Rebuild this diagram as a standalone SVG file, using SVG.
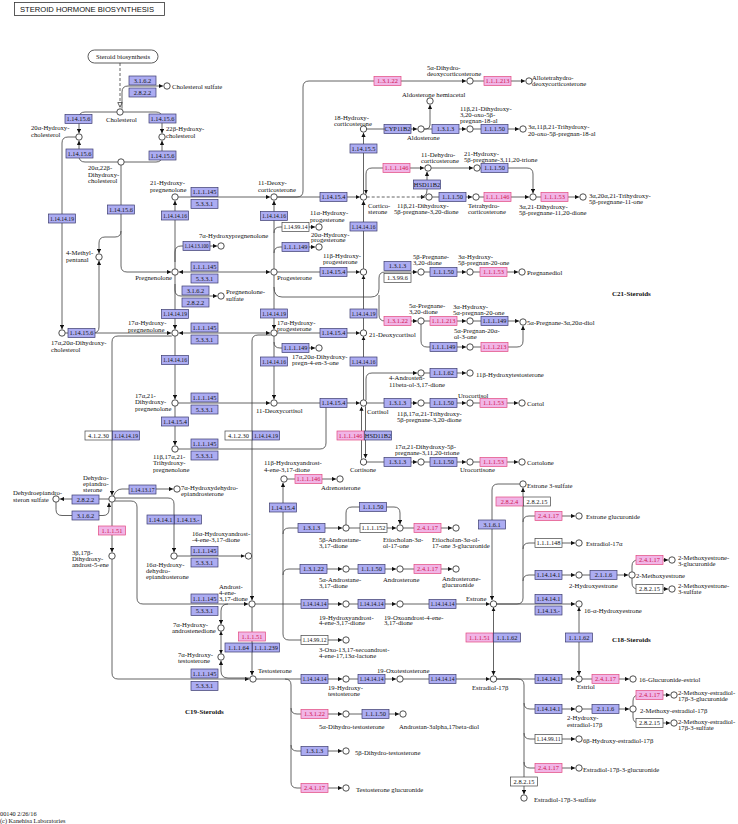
<svg xmlns="http://www.w3.org/2000/svg" width="738" height="824" viewBox="0 0 738 824">
<style>
text{font-family:"Liberation Serif","Times New Roman",serif;fill:#111}
.l{font-size:6.7px}
.h{font-size:7px;font-weight:bold}
.e text{font-size:6.4px;text-anchor:middle}
.e rect{stroke-width:.7}
.b rect{fill:#acacf2;stroke:#3b3b6e}
.p rect{fill:#f1b5e6;stroke:#e2487f}
.p text{fill:#d0134f}
.w rect{fill:#fff;stroke:#444}
.n circle{fill:#fff;stroke:#222;stroke-width:.8}
#connectors path{fill:none;stroke:#3c3c3c;stroke-width:.8}
#connectors .a{marker-end:url(#ar)}
#connectors .aa{marker-start:url(#ar);marker-end:url(#ar)}
#connectors .d{stroke-dasharray:3 2}
</style>
<defs>
<marker id="ar" viewBox="0 0 10 10" refX="10" refY="5" markerWidth="4.2" markerHeight="4.2" markerUnits="userSpaceOnUse" orient="auto-start-reverse"><path d="M0,0L10,5L0,10z" fill="#111"/></marker>
<marker id="ho" viewBox="0 0 10 10" refX="10" refY="5" markerWidth="5.5" markerHeight="5.5" markerUnits="userSpaceOnUse" orient="auto"><path d="M1,1L9.5,5L1,9z" fill="#fff" stroke="#111" stroke-width="1.2"/></marker>
</defs>
<rect width="738" height="824" fill="#fff"/>
<g id="title"><rect x="14.5" y="2.5" width="150" height="13" fill="#fff" stroke="#333" stroke-width=".8"/><text x="20" y="12" style="font-family:'Liberation Sans',Arial,sans-serif;font-size:7.3px" textLength="134" lengthAdjust="spacingAndGlyphs">STEROID  HORMONE BIOSYNTHESIS</text></g>

<g id="connectors">
<path class="d" style="marker-end:url(#ho)" d="M120,63V107.5"/>
<path class="a" d="M122,108.7V92Q122,86 128,86H163"/>
<path class="a" d="M116.8,112H85Q79,112 79,118V133.2"/>
<path class="a" d="M123.2,112H156Q162,112 162,118V133.2"/>
<path class="a" d="M117.8,162H85Q79,162 79,156V140.8"/>
<path class="a" d="M124.2,162H156Q162,162 162,156V140.8"/>
<path class="a" d="M75.8,137H68Q62,137 62,143V329.2"/>
<path class="a" d="M121,165.2V266Q121,272 127,272H171.2"/>
<path class="a" d="M121,231Q121,237 115,237H105Q99,237 99,243V253.2"/>
<path class="a" d="M65.2,333H171.2"/>
<path class="a" d="M93,333Q99,333 99,327V260.8"/>
<path class="a" d="M175,268.8V200.8"/>
<path class="a" d="M178.2,197H270.2"/>
<path class="a" d="M175,262V252Q175,246 181,246H217.2"/>
<path class="aa" d="M178.8,272H270.2"/>
<path class="a" d="M175,284V290Q175,296 181,296H217.2"/>
<path class="a" d="M175,275.2V329.2"/>
<path class="aa" d="M178.8,333H270.2"/>
<path class="a" d="M175,336.2V399.2"/>
<path class="a" d="M178.2,403H270.2"/>
<path class="a" d="M175,406.2V445.2"/>
<path d="M178.2,449H320Q326,449 326,443V403"/>
<path class="a" d="M171.8,336H118Q112,336 112,342V495.2"/>
<path class="a" d="M108.8,499H59.8"/>
<path class="a" d="M56,502.2V509.5Q56,515.5 62,515.5H103Q109,515.5 109,509.5V502.8"/>
<path class="a" d="M113.5,496Q116,489 122,489H173.2"/>
<path class="a" d="M115.2,498H168Q174,498 174,504V552.2"/>
<path class="a" d="M115,501H131Q137,501 137,507V598Q137,604 143,604H248.2"/>
<path class="a" d="M112,502.2V552.2"/>
<path class="a" d="M112,559.2V673Q112,679 118,679H249.2"/>
<path class="a" d="M177.2,556H244.7"/>
<path class="a" d="M270.8,335H258Q252,335 252,341V600.2"/>
<path class="a" d="M228,604Q221,604 221,611V624.2"/>
<path class="aa" d="M221,631.2V653.8"/>
<path class="a" d="M249.8,678H228Q221,678 221,671V660.8"/>
<path class="a" d="M252,607.2V675.2"/>
<path class="a" d="M283,604V482.8"/>
<path class="a" d="M283,534Q283,528 289,528H342.2"/>
<path class="a" d="M283,575Q283,569 289,569H342.2"/>
<path class="a" d="M283,604V634Q283,640 289,640H342.2"/>
<path class="a" d="M255.2,604H342.2"/>
<path class="a" d="M349.2,604H396.2"/>
<path class="a" d="M403.2,604H489.8"/>
<path class="a" d="M287.2,479H336.2"/>
<path class="a" d="M349.2,528H396.2"/>
<path class="a" d="M346,524.8V513Q346,507 352,507H394Q400,507 400,513V524.2"/>
<path class="a" d="M403.2,528H452.2"/>
<path class="a" d="M349.2,569H396.2"/>
<path class="a" d="M403.2,569H452.2"/>
<path class="a" d="M256.2,679H342.2"/>
<path class="a" d="M349.2,679H396.2"/>
<path class="a" d="M403.2,679H489.8"/>
<path class="a" d="M285,679Q291,679 291,685V782Q291,788 297,788H342.2"/>
<path class="a" d="M291,708Q291,714 297,714H342.2"/>
<path class="a" d="M291,745Q291,751 297,751H342.2"/>
<path class="a" d="M349.2,714H399.2"/>
<path class="a" d="M277.2,197H359.8"/>
<path class="a" d="M274,268.8V200.8"/>
<path class="a" d="M277.2,197H297Q303,197 303,191V87Q303,81 309,81H466.2"/>
<path class="a" d="M473.2,81H525.2"/>
<path class="a" d="M363.5,193.8V132.8"/>
<path class="a" d="M366.7,129H417.2"/>
<path class="a" d="M424.2,129H426Q430,129 430,125V104.8"/>
<path class="a" d="M424.2,129H466.2"/>
<path class="a" d="M473.2,129H519.2"/>
<path class="aa" d="M424.2,168H372Q366,168 366,174V193.8"/>
<path class="a d" d="M366.7,197H425.2"/>
<path class="a" d="M420,197Q427,197 427,190V171.8"/>
<path class="a" d="M432.2,197H472.2"/>
<path class="a" d="M479.2,197H529.2"/>
<path class="a" d="M536.2,197H579.2"/>
<path class="a" d="M431.2,168H473.2"/>
<path class="a" d="M480.2,168H527Q533,168 533,174V193.2"/>
<path class="a" d="M274,233Q274,227 280,227H315.2"/>
<path class="a" d="M274,253Q274,247 280,247H315.2"/>
<path class="a" d="M277.2,272H359.8"/>
<path class="a" d="M363.5,268.8V200.8"/>
<path class="a" d="M363.5,329.8V275.2"/>
<path class="a" d="M363.5,399.8V336.2"/>
<path class="a" d="M274,275.2V329.2"/>
<path class="a" d="M274,287Q274,297 282,297H371Q379,297 379,289V278Q379,272 385,272H417.2"/>
<path class="a" d="M379,295V315Q379,321 385,321H417.2"/>
<path class="a" d="M277.2,333H359.8"/>
<path class="a" d="M274,342Q274,348 280,348H315.2"/>
<path class="a" d="M274,336.2V399.2"/>
<path class="a" d="M277.2,403H359.8"/>
<path class="a" d="M424.2,272H466.2"/>
<path class="a" d="M473.2,272H518.2"/>
<path class="a" d="M424.2,321H466.2"/>
<path class="a" d="M473.2,321H519.2"/>
<path class="a" d="M421,324.2V341Q421,347 427,347H466.2"/>
<path class="a" d="M473.2,347H517Q523,347 523,341V325.8"/>
<path class="a" d="M366,400V379Q366,373 372,373H417.2"/>
<path class="a" d="M424.2,373H466.2"/>
<path class="a" d="M366.7,403H417.2"/>
<path class="a" d="M424.2,403H466.2"/>
<path class="a" d="M473.2,403H518.2"/>
<path class="a" d="M361.5,458.8V406.6"/>
<path class="a" d="M365.5,406.2V458.2"/>
<path class="a" d="M366.7,462H417.2"/>
<path class="a" d="M424.2,462H466.2"/>
<path class="a" d="M473.2,462H518.2"/>
<path class="a" d="M496.7,604H575.2"/>
<path class="a" d="M496.7,604H517Q523,604 523,598V487.8"/>
<path class="a" d="M523,522Q523,516 529,516H575.2"/>
<path class="a" d="M523,549Q523,543 529,543H575.2"/>
<path class="a" d="M523,581Q523,575 529,575H575.2"/>
<path class="a" d="M519.8,484H498Q492,484 492,490V600.2"/>
<path class="a" d="M582.2,575H628.2"/>
<path class="a" d="M632,571.8V566Q632,560 638,560H668.2"/>
<path class="a" d="M632,578.2V583Q632,589 638,589H668.2"/>
<path class="aa" d="M493.5,607.2V675.2"/>
<path class="aa" d="M579,607.2V675.2"/>
<path class="a" d="M496.7,679H575.2"/>
<path class="a" d="M582.2,679H629.2"/>
<path class="a" d="M496.7,679H518Q524,679 524,685V794.2"/>
<path class="a" d="M524,703Q524,709 530,709H575.2"/>
<path class="a" d="M524,733Q524,739 530,739H575.2"/>
<path class="a" d="M524,762Q524,768 530,768H575.2"/>
<path class="a" d="M582.2,709H629.2"/>
<path class="a" d="M633,705.8V701Q633,695 639,695H670.2"/>
<path class="a" d="M633,712.2V717Q633,723 639,723H670.2"/>
</g>

<g id="n_steroid"><rect x="88" y="50" width="70" height="13" rx="6.5" fill="#fff" stroke="#333" stroke-width=".8"/><text class="l" x="123" y="59.3" text-anchor="middle">Steroid biosynthesis</text></g>

<g id="e1" class="e b"><rect x="129" y="76" width="27" height="9"/><text x="142.5" y="82.7">3.1.6.2</text></g>
<g id="e2" class="e b"><rect x="129" y="88" width="27" height="9"/><text x="142.5" y="94.7">2.8.2.2</text></g>
<g id="e3" class="e b"><rect x="65" y="114.5" width="27" height="9"/><text x="78.5" y="121.2">1.14.15.6</text></g>
<g id="e4" class="e b"><rect x="149" y="114" width="27" height="9"/><text x="162.5" y="120.7">1.14.15.6</text></g>
<g id="e5" class="e b"><rect x="66" y="149" width="27" height="9"/><text x="79.5" y="155.7">1.14.15.6</text></g>
<g id="e6" class="e b"><rect x="149" y="151" width="27" height="9"/><text x="162.5" y="157.7">1.14.15.6</text></g>
<g id="e7" class="e b"><rect x="191" y="187.5" width="27" height="9"/><text x="204.5" y="194.2">1.1.1.145</text></g>
<g id="e8" class="e b"><rect x="191" y="199.5" width="27" height="9"/><text x="204.5" y="206.2">5.3.3.1</text></g>
<g id="e9" class="e b"><rect x="107.5" y="205" width="27" height="9"/><text x="121" y="211.7">1.14.15.6</text></g>
<g id="e10" class="e b"><rect x="48.5" y="214" width="27" height="9"/><text x="62" y="220.7" textLength="24" lengthAdjust="spacingAndGlyphs">1.14.14.19</text></g>
<g id="e11" class="e b"><rect x="161.5" y="211" width="27" height="9"/><text x="175" y="217.7" textLength="24" lengthAdjust="spacingAndGlyphs">1.14.14.16</text></g>
<g id="e12" class="e b"><rect x="183" y="241.5" width="27" height="9"/><text x="196.5" y="248.2" textLength="24" lengthAdjust="spacingAndGlyphs">1.14.13.100</text></g>
<g id="e13" class="e b"><rect x="191" y="262" width="27" height="9"/><text x="204.5" y="268.7">1.1.1.145</text></g>
<g id="e14" class="e b"><rect x="191" y="274" width="27" height="9"/><text x="204.5" y="280.7">5.3.3.1</text></g>
<g id="e15" class="e b"><rect x="182" y="286" width="27" height="9"/><text x="195.5" y="292.7">3.1.6.2</text></g>
<g id="e16" class="e b"><rect x="182" y="298" width="27" height="9"/><text x="195.5" y="304.7">2.8.2.2</text></g>
<g id="e17" class="e b"><rect x="161.5" y="309.5" width="27" height="9"/><text x="175" y="316.2" textLength="24" lengthAdjust="spacingAndGlyphs">1.14.14.19</text></g>
<g id="e18" class="e b"><rect x="68" y="328.5" width="27" height="9"/><text x="81.5" y="335.2">1.14.15.6</text></g>
<g id="e19" class="e b"><rect x="191" y="323" width="27" height="9"/><text x="204.5" y="329.7">1.1.1.145</text></g>
<g id="e20" class="e b"><rect x="191" y="335" width="27" height="9"/><text x="204.5" y="341.7">5.3.3.1</text></g>
<g id="e21" class="e b"><rect x="161.5" y="355.5" width="27" height="9"/><text x="175" y="362.2" textLength="24" lengthAdjust="spacingAndGlyphs">1.14.14.16</text></g>
<g id="e22" class="e b"><rect x="191" y="393" width="27" height="9"/><text x="204.5" y="399.7">1.1.1.145</text></g>
<g id="e23" class="e b"><rect x="191" y="405" width="27" height="9"/><text x="204.5" y="411.7">5.3.3.1</text></g>
<g id="e24" class="e b"><rect x="161.5" y="417" width="27" height="9"/><text x="175" y="423.7">1.14.15.4</text></g>
<g id="e25" class="e w"><rect x="85" y="431" width="27" height="9"/><text x="98.5" y="437.7">4.1.2.30</text></g>
<g id="e26" class="e b"><rect x="112.5" y="431" width="27" height="9"/><text x="126" y="437.7" textLength="24" lengthAdjust="spacingAndGlyphs">1.14.14.19</text></g>
<g id="e27" class="e b"><rect x="191" y="439" width="27" height="9"/><text x="204.5" y="445.7">1.1.1.145</text></g>
<g id="e28" class="e b"><rect x="191" y="451" width="27" height="9"/><text x="204.5" y="457.7">5.3.3.1</text></g>
<g id="e29" class="e w"><rect x="225" y="431" width="27" height="9"/><text x="238.5" y="437.7">4.1.2.30</text></g>
<g id="e30" class="e b"><rect x="252.5" y="431" width="27" height="9"/><text x="266" y="437.7" textLength="24" lengthAdjust="spacingAndGlyphs">1.14.14.19</text></g>
<g id="e31" class="e b"><rect x="129" y="485" width="27" height="9"/><text x="142.5" y="491.7" textLength="24" lengthAdjust="spacingAndGlyphs">1.14.13.17</text></g>
<g id="e32" class="e b"><rect x="72" y="495" width="27" height="9"/><text x="85.5" y="501.7">2.8.2.2</text></g>
<g id="e33" class="e b"><rect x="72" y="511" width="27" height="9"/><text x="85.5" y="517.7">3.1.6.2</text></g>
<g id="e34" class="e b"><rect x="147" y="515" width="27" height="9"/><text x="160.5" y="521.7">1.14.14.1</text></g>
<g id="e35" class="e b"><rect x="174.5" y="515" width="27" height="9"/><text x="188" y="521.7">1.14.13.-</text></g>
<g id="e36" class="e p"><rect x="98.5" y="526" width="27" height="9"/><text x="112" y="532.7">1.1.1.51</text></g>
<g id="e37" class="e b"><rect x="191" y="546.5" width="27" height="9"/><text x="204.5" y="553.2">1.1.1.145</text></g>
<g id="e38" class="e b"><rect x="191" y="558" width="27" height="9"/><text x="204.5" y="564.7">5.3.3.1</text></g>
<g id="e39" class="e b"><rect x="191" y="594" width="27" height="9"/><text x="204.5" y="600.7">1.1.1.145</text></g>
<g id="e40" class="e b"><rect x="191" y="606.5" width="27" height="9"/><text x="204.5" y="613.2">5.3.3.1</text></g>
<g id="e41" class="e p"><rect x="238.5" y="632" width="27" height="9"/><text x="252" y="638.7">1.1.1.51</text></g>
<g id="e42" class="e b"><rect x="225" y="643" width="27" height="9"/><text x="238.5" y="649.7">1.1.1.64</text></g>
<g id="e43" class="e b"><rect x="252.5" y="643" width="27" height="9"/><text x="266" y="649.7">1.1.1.239</text></g>
<g id="e44" class="e b"><rect x="191" y="669" width="27" height="9"/><text x="204.5" y="675.7">1.1.1.145</text></g>
<g id="e45" class="e b"><rect x="191" y="681.5" width="27" height="9"/><text x="204.5" y="688.2">5.3.3.1</text></g>
<g id="e46" class="e p"><rect x="374" y="76.5" width="27" height="9"/><text x="387.5" y="83.2">1.3.1.22</text></g>
<g id="e47" class="e p"><rect x="484" y="76.5" width="27" height="9"/><text x="497.5" y="83.2">1.1.1.213</text></g>
<g id="e48" class="e b"><rect x="384" y="124.5" width="27" height="9"/><text x="397.5" y="131.2">CYP11B2</text></g>
<g id="e49" class="e b"><rect x="432" y="124.5" width="27" height="9"/><text x="445.5" y="131.2">1.3.1.3</text></g>
<g id="e50" class="e b"><rect x="481" y="124.5" width="27" height="9"/><text x="494.5" y="131.2">1.1.1.50</text></g>
<g id="e51" class="e b"><rect x="350" y="144" width="27" height="9"/><text x="363.5" y="150.7">1.14.15.5</text></g>
<g id="e52" class="e p"><rect x="383" y="163.5" width="27" height="9"/><text x="396.5" y="170.2">1.1.1.146</text></g>
<g id="e53" class="e b"><rect x="481" y="163.5" width="27" height="9"/><text x="494.5" y="170.2">1.1.1.50</text></g>
<g id="e54" class="e b"><rect x="413.5" y="180" width="27" height="9"/><text x="427" y="186.7">HSD11B2</text></g>
<g id="e55" class="e b"><rect x="320" y="192.5" width="27" height="9"/><text x="333.5" y="199.2">1.14.15.4</text></g>
<g id="e56" class="e b"><rect x="439" y="192.5" width="27" height="9"/><text x="452.5" y="199.2">1.1.1.50</text></g>
<g id="e57" class="e p"><rect x="484" y="192.5" width="27" height="9"/><text x="497.5" y="199.2">1.1.1.146</text></g>
<g id="e58" class="e p"><rect x="541" y="192.5" width="27" height="9"/><text x="554.5" y="199.2">1.1.1.53</text></g>
<g id="e59" class="e b"><rect x="260.5" y="211.5" width="27" height="9"/><text x="274" y="218.2" textLength="24" lengthAdjust="spacingAndGlyphs">1.14.14.16</text></g>
<g id="e60" class="e w"><rect x="282" y="222.5" width="27" height="9"/><text x="295.5" y="229.2" textLength="24" lengthAdjust="spacingAndGlyphs">1.14.99.14</text></g>
<g id="e61" class="e b"><rect x="350" y="222" width="27" height="9"/><text x="363.5" y="228.7" textLength="24" lengthAdjust="spacingAndGlyphs">1.14.14.16</text></g>
<g id="e62" class="e b"><rect x="282" y="242.5" width="27" height="9"/><text x="295.5" y="249.2">1.1.1.149</text></g>
<g id="e63" class="e b"><rect x="320" y="267.5" width="27" height="9"/><text x="333.5" y="274.2">1.14.15.4</text></g>
<g id="e64" class="e b"><rect x="384" y="261.5" width="27" height="9"/><text x="397.5" y="268.2">1.3.1.3</text></g>
<g id="e65" class="e w"><rect x="384" y="273.5" width="27" height="9"/><text x="397.5" y="280.2">1.3.99.6</text></g>
<g id="e66" class="e b"><rect x="430" y="267.5" width="27" height="9"/><text x="443.5" y="274.2">1.1.1.50</text></g>
<g id="e67" class="e p"><rect x="480" y="267.5" width="27" height="9"/><text x="493.5" y="274.2">1.1.1.53</text></g>
<g id="e68" class="e b"><rect x="260.5" y="309" width="27" height="9"/><text x="274" y="315.7" textLength="24" lengthAdjust="spacingAndGlyphs">1.14.14.19</text></g>
<g id="e69" class="e b"><rect x="350" y="309" width="27" height="9"/><text x="363.5" y="315.7" textLength="24" lengthAdjust="spacingAndGlyphs">1.14.14.19</text></g>
<g id="e70" class="e p"><rect x="384" y="316.5" width="27" height="9"/><text x="397.5" y="323.2">1.3.1.22</text></g>
<g id="e71" class="e p"><rect x="430" y="316.5" width="27" height="9"/><text x="443.5" y="323.2">1.1.1.213</text></g>
<g id="e72" class="e b"><rect x="481" y="316.5" width="27" height="9"/><text x="494.5" y="323.2">1.1.1.149</text></g>
<g id="e73" class="e b"><rect x="320" y="328.5" width="27" height="9"/><text x="333.5" y="335.2">1.14.15.4</text></g>
<g id="e74" class="e b"><rect x="282" y="343.5" width="27" height="9"/><text x="295.5" y="350.2">1.1.1.149</text></g>
<g id="e75" class="e b"><rect x="430" y="342.5" width="27" height="9"/><text x="443.5" y="349.2">1.1.1.149</text></g>
<g id="e76" class="e p"><rect x="481" y="342.5" width="27" height="9"/><text x="494.5" y="349.2">1.1.1.213</text></g>
<g id="e77" class="e b"><rect x="260.5" y="357" width="27" height="9"/><text x="274" y="363.7" textLength="24" lengthAdjust="spacingAndGlyphs">1.14.14.16</text></g>
<g id="e78" class="e b"><rect x="350" y="357" width="27" height="9"/><text x="363.5" y="363.7" textLength="24" lengthAdjust="spacingAndGlyphs">1.14.14.16</text></g>
<g id="e79" class="e b"><rect x="430" y="368.5" width="27" height="9"/><text x="443.5" y="375.2">1.1.1.62</text></g>
<g id="e80" class="e b"><rect x="320" y="398.5" width="27" height="9"/><text x="333.5" y="405.2">1.14.15.4</text></g>
<g id="e81" class="e b"><rect x="384" y="398.5" width="27" height="9"/><text x="397.5" y="405.2">1.3.1.3</text></g>
<g id="e82" class="e b"><rect x="430" y="398.5" width="27" height="9"/><text x="443.5" y="405.2">1.1.1.50</text></g>
<g id="e83" class="e p"><rect x="480" y="398.5" width="27" height="9"/><text x="493.5" y="405.2">1.1.1.53</text></g>
<g id="e84" class="e p"><rect x="337" y="431" width="27" height="9"/><text x="350.5" y="437.7">1.1.1.146</text></g>
<g id="e85" class="e b"><rect x="364.5" y="431" width="27" height="9"/><text x="378" y="437.7">HSD11B2</text></g>
<g id="e86" class="e b"><rect x="384" y="457.5" width="27" height="9"/><text x="397.5" y="464.2">1.3.1.3</text></g>
<g id="e87" class="e b"><rect x="430" y="457.5" width="27" height="9"/><text x="443.5" y="464.2">1.1.1.50</text></g>
<g id="e88" class="e p"><rect x="480" y="457.5" width="27" height="9"/><text x="493.5" y="464.2">1.1.1.53</text></g>
<g id="e89" class="e p"><rect x="295" y="474.5" width="27" height="9"/><text x="308.5" y="481.2">1.1.1.146</text></g>
<g id="e90" class="e b"><rect x="269.5" y="503" width="27" height="9"/><text x="283" y="509.7">1.14.15.4</text></g>
<g id="e91" class="e b"><rect x="359.5" y="502.5" width="27" height="9"/><text x="373" y="509.2">1.1.1.50</text></g>
<g id="e92" class="e b"><rect x="298" y="523.5" width="27" height="9"/><text x="311.5" y="530.2">1.3.1.3</text></g>
<g id="e93" class="e w"><rect x="360" y="523.5" width="27" height="9"/><text x="373.5" y="530.2">1.1.1.152</text></g>
<g id="e94" class="e p"><rect x="414" y="523.5" width="27" height="9"/><text x="427.5" y="530.2">2.4.1.17</text></g>
<g id="e95" class="e b"><rect x="300" y="564.5" width="27" height="9"/><text x="313.5" y="571.2">1.3.1.22</text></g>
<g id="e96" class="e b"><rect x="358" y="564.5" width="27" height="9"/><text x="371.5" y="571.2">1.1.1.50</text></g>
<g id="e97" class="e p"><rect x="414" y="564.5" width="27" height="9"/><text x="427.5" y="571.2">2.4.1.17</text></g>
<g id="e98" class="e b"><rect x="301" y="599.5" width="27" height="9"/><text x="314.5" y="606.2" textLength="24" lengthAdjust="spacingAndGlyphs">1.14.14.14</text></g>
<g id="e99" class="e b"><rect x="358" y="599.5" width="27" height="9"/><text x="371.5" y="606.2" textLength="24" lengthAdjust="spacingAndGlyphs">1.14.14.14</text></g>
<g id="e100" class="e b"><rect x="429" y="599.5" width="27" height="9"/><text x="442.5" y="606.2" textLength="24" lengthAdjust="spacingAndGlyphs">1.14.14.14</text></g>
<g id="e101" class="e w"><rect x="301" y="635.5" width="27" height="9"/><text x="314.5" y="642.2" textLength="24" lengthAdjust="spacingAndGlyphs">1.14.99.12</text></g>
<g id="e102" class="e b"><rect x="301" y="674.5" width="27" height="9"/><text x="314.5" y="681.2" textLength="24" lengthAdjust="spacingAndGlyphs">1.14.14.14</text></g>
<g id="e103" class="e b"><rect x="358" y="674.5" width="27" height="9"/><text x="371.5" y="681.2" textLength="24" lengthAdjust="spacingAndGlyphs">1.14.14.14</text></g>
<g id="e104" class="e b"><rect x="429" y="674.5" width="27" height="9"/><text x="442.5" y="681.2" textLength="24" lengthAdjust="spacingAndGlyphs">1.14.14.14</text></g>
<g id="e105" class="e p"><rect x="301" y="709.5" width="27" height="9"/><text x="314.5" y="716.2">1.3.1.22</text></g>
<g id="e106" class="e b"><rect x="362" y="709.5" width="27" height="9"/><text x="375.5" y="716.2">1.1.1.50</text></g>
<g id="e107" class="e b"><rect x="301" y="746.5" width="27" height="9"/><text x="314.5" y="753.2">1.3.1.3</text></g>
<g id="e108" class="e p"><rect x="301" y="783.5" width="27" height="9"/><text x="314.5" y="790.2">2.4.1.17</text></g>
<g id="e109" class="e p"><rect x="496" y="497" width="27" height="9"/><text x="509.5" y="503.7">2.8.2.4</text></g>
<g id="e110" class="e w"><rect x="523.5" y="497" width="27" height="9"/><text x="537" y="503.7">2.8.2.15</text></g>
<g id="e111" class="e b"><rect x="478.5" y="520" width="27" height="9"/><text x="492" y="526.7">3.1.6.1</text></g>
<g id="e112" class="e p"><rect x="535" y="511.5" width="27" height="9"/><text x="548.5" y="518.2">2.4.1.17</text></g>
<g id="e113" class="e w"><rect x="535" y="538.5" width="27" height="9"/><text x="548.5" y="545.2">1.1.1.148</text></g>
<g id="e114" class="e b"><rect x="535" y="570.5" width="27" height="9"/><text x="548.5" y="577.2">1.14.14.1</text></g>
<g id="e115" class="e b"><rect x="590" y="570.5" width="27" height="9"/><text x="603.5" y="577.2">2.1.1.6</text></g>
<g id="e116" class="e p"><rect x="636" y="555.5" width="27" height="9"/><text x="649.5" y="562.2">2.4.1.17</text></g>
<g id="e117" class="e w"><rect x="636" y="584.5" width="27" height="9"/><text x="649.5" y="591.2">2.8.2.15</text></g>
<g id="e118" class="e b"><rect x="535" y="594.5" width="27" height="9"/><text x="548.5" y="601.2">1.14.14.1</text></g>
<g id="e119" class="e b"><rect x="535" y="606" width="27" height="9"/><text x="548.5" y="612.7">1.14.13.-</text></g>
<g id="e120" class="e p"><rect x="466" y="633" width="27" height="9"/><text x="479.5" y="639.7">1.1.1.51</text></g>
<g id="e121" class="e b"><rect x="493.5" y="633" width="27" height="9"/><text x="507" y="639.7">1.1.1.62</text></g>
<g id="e122" class="e b"><rect x="565.5" y="633" width="27" height="9"/><text x="579" y="639.7">1.1.1.62</text></g>
<g id="e123" class="e b"><rect x="535" y="674.5" width="27" height="9"/><text x="548.5" y="681.2">1.14.14.1</text></g>
<g id="e124" class="e p"><rect x="592" y="674.5" width="27" height="9"/><text x="605.5" y="681.2">2.4.1.17</text></g>
<g id="e125" class="e b"><rect x="535" y="704.5" width="27" height="9"/><text x="548.5" y="711.2">1.14.14.1</text></g>
<g id="e126" class="e b"><rect x="592" y="704.5" width="27" height="9"/><text x="605.5" y="711.2">2.1.1.6</text></g>
<g id="e127" class="e p"><rect x="636" y="690.5" width="27" height="9"/><text x="649.5" y="697.2">2.4.1.17</text></g>
<g id="e128" class="e w"><rect x="636" y="718.5" width="27" height="9"/><text x="649.5" y="725.2">2.8.2.15</text></g>
<g id="e129" class="e w"><rect x="535" y="734.5" width="27" height="9"/><text x="548.5" y="741.2" textLength="24" lengthAdjust="spacingAndGlyphs">1.14.99.11</text></g>
<g id="e130" class="e p"><rect x="535" y="763.5" width="27" height="9"/><text x="548.5" y="770.2">2.4.1.17</text></g>
<g id="e131" class="e w"><rect x="510.5" y="777" width="27" height="9"/><text x="524" y="783.7">2.8.2.15</text></g>

<g id="n_chol" class="n"><circle cx="120" cy="112" r="3.2"/><text class="l" x="106" y="122">Cholesterol</text></g>
<g id="n_cholsulf" class="n"><circle cx="167" cy="86" r="3.2"/><text class="l" x="172" y="88.5">Cholesterol sulfate</text></g>
<g id="n_20a" class="n"><circle cx="79" cy="137" r="3.2"/><text class="l" x="31" y="130">20α-Hydroxy-<tspan x="31" dy="7">cholesterol</tspan></text></g>
<g id="n_22b" class="n"><circle cx="162" cy="137" r="3.2"/><text class="l" x="166" y="131">22β-Hydroxy-<tspan x="166" dy="7">cholesterol</tspan></text></g>
<g id="n_2022" class="n"><circle cx="121" cy="162" r="3.2"/><text class="l" x="88" y="170">20α,22β-<tspan x="88" dy="6.5">Dihydroxy-</tspan><tspan x="88" dy="6.5">cholesterol</tspan></text></g>
<g id="n_21ohpreg" class="n"><circle cx="175" cy="197" r="3.2"/><text class="l" x="150" y="185">21-Hydroxy-<tspan x="150" dy="7">pregnenolone</tspan></text></g>
<g id="n_7apreg" class="n"><circle cx="221" cy="246" r="3.2"/><text class="l" x="199" y="238">7α-Hydroxypregnenolone</text></g>
<g id="n_4meth" class="n"><circle cx="99" cy="257" r="3.2"/><text class="l" x="66" y="255">4-Methyl-<tspan x="66" dy="6.5">pentanal</tspan></text></g>
<g id="n_preg" class="n"><circle cx="175" cy="272" r="3.2"/><text class="l" x="172" y="280" text-anchor="end">Pregnenolone</text></g>
<g id="n_pregs" class="n"><circle cx="221" cy="296" r="3.2"/><text class="l" x="226" y="294">Pregnenolone-<tspan x="226" dy="6.5">sulfate</tspan></text></g>
<g id="n_1720chol" class="n"><circle cx="62" cy="333" r="3.2"/><text class="l" x="51" y="345">17α,20α-Dihydroxy-<tspan x="51" dy="6.5">cholesterol</tspan></text></g>
<g id="n_17preg" class="n"><circle cx="175" cy="333" r="3.2"/><text class="l" x="128" y="325">17α-Hydroxy-<tspan x="128" dy="6.5">pregnenolone</tspan></text></g>
<g id="n_1721preg" class="n"><circle cx="175" cy="403" r="3.2"/><text class="l" x="135" y="398">17α,21-<tspan x="135" dy="6.3">Dihydroxy-</tspan><tspan x="135" dy="6.3">pregnenolone</tspan></text></g>
<g id="n_11b1721preg" class="n"><circle cx="175" cy="449" r="3.2"/><text class="l" x="153" y="459">11β,17α,21-<tspan x="153" dy="6.3">Trihydroxy-</tspan><tspan x="153" dy="6.5">pregnenolone</tspan></text></g>
<g id="n_dhea" class="n"><circle cx="112" cy="499" r="3.2"/><text class="l" x="83" y="480">Dehydro-<tspan x="83" dy="6">epiandro-</tspan><tspan x="83" dy="6">sterone</tspan></text></g>
<g id="n_dheas" class="n"><circle cx="56" cy="499" r="3.2"/><text class="l" x="13" y="495">Dehydroepiandro-<tspan x="13" dy="6.5">steron sulfate</tspan></text></g>
<g id="n_7adhea" class="n"><circle cx="177" cy="489" r="3.2"/><text class="l" x="181" y="490">7α-Hydroxydehydro-<tspan x="181" dy="5.8">epiandrosterone</tspan></text></g>
<g id="n_3b17b" class="n"><circle cx="112" cy="556" r="3.2"/><text class="l" x="72" y="555">3β,17β-<tspan x="72" dy="6">Dihydroxy-</tspan><tspan x="72" dy="6">androst-5-ene</tspan></text></g>
<g id="n_16adhea" class="n"><circle cx="174" cy="556" r="3.2"/><text class="l" x="146" y="567">16α-Hydroxy-<tspan x="146" dy="5.8">dehydro-</tspan><tspan x="146" dy="6">epiandrosterone</tspan></text></g>
<g id="n_16aandro" class="n"><circle cx="248.5" cy="556" r="3.2"/><text class="l" x="192" y="536">16α-Hydroxyandrost-<tspan x="192" dy="6">-4-ene-3,17-dione</tspan></text></g>
<g id="n_andro" class="n"><circle cx="252" cy="604" r="3.2"/><text class="l" x="219" y="589">Androst-<tspan x="219" dy="6">4-ene-</tspan><tspan x="219" dy="6">3,17-dione</tspan></text></g>
<g id="n_7aandro" class="n"><circle cx="221" cy="628" r="3.2"/><text class="l" x="173" y="627">7α-Hydroxy-<tspan x="172" dy="6">androstenedione</tspan></text></g>
<g id="n_7atesto" class="n"><circle cx="221" cy="657" r="3.2"/><text class="l" x="178" y="657">7α-Hydroxy-<tspan x="178" dy="6">testosterone</tspan></text></g>
<g id="n_testo" class="n"><circle cx="253" cy="679" r="3.2"/><text class="l" x="258" y="673">Testosterone</text></g>
<g id="n_11doc" class="n"><circle cx="274" cy="197" r="3.2"/><text class="l" x="258" y="185">11-Deoxy-<tspan x="258" dy="6.5">corticosterone</tspan></text></g>
<g id="n_cs" class="n"><circle cx="363.5" cy="197" r="3.2"/><text class="l" x="368" y="208">Cortico-<tspan x="368" dy="6">sterone</tspan></text></g>
<g id="n_18ohcs" class="n"><circle cx="363.5" cy="129" r="3.2"/><text class="l" x="334" y="120">18-Hydroxy-<tspan x="334" dy="6">corticosterone</tspan></text></g>
<g id="n_aldo" class="n"><circle cx="421" cy="129" r="3.2"/><text class="l" x="407" y="140">Aldosterone</text></g>
<g id="n_aldohemi" class="n"><circle cx="430" cy="101" r="3.2"/><text class="l" x="402" y="96.5">Aldosterone hemiacetal</text></g>
<g id="n_11b21oxo" class="n"><circle cx="470" cy="129" r="3.2"/><text class="l" x="460" y="111">11β,21-Dihydroxy-<tspan x="460" dy="6">3,20-oxo-5β-</tspan><tspan x="460" dy="5.5">pregnan-18-al</tspan></text></g>
<g id="n_3a11b" class="n"><circle cx="523" cy="129" r="3.2"/><text class="l" x="528" y="129">3α,11β,21-Trihydroxy-<tspan x="528" dy="6.5">20-oxo-5β-pregnan-18-al</tspan></text></g>
<g id="n_5adhdoc" class="n"><circle cx="470" cy="81" r="3.2"/><text class="l" x="427" y="70">5α-Dihydro-<tspan x="427" dy="6">deoxycorticosterone</tspan></text></g>
<g id="n_allo" class="n"><circle cx="529" cy="81" r="3.2"/><text class="l" x="532" y="80">Allotetrahydro-<tspan x="532" dy="6">deoxycorticosterone</tspan></text></g>
<g id="n_11dhcs" class="n"><circle cx="428" cy="168" r="3.2"/><text class="l" x="421" y="157">11-Dehydro-<tspan x="421" dy="6">corticosterone</tspan></text></g>
<g id="n_21oh5b" class="n"><circle cx="477" cy="168" r="3.2"/><text class="l" x="464" y="156">21-Hydroxy-<tspan x="464" dy="6">5β-pregnane-3,11,20-trione</tspan></text></g>
<g id="n_11b215b" class="n"><circle cx="429" cy="197" r="3.2"/><text class="l" x="397" y="208">11β,21-Dihydroxy-<tspan x="394" dy="6">5β-pregnane-3,20-dione</tspan></text></g>
<g id="n_thcs" class="n"><circle cx="476" cy="197" r="3.2"/><text class="l" x="468" y="208">Tetrahydro-<tspan x="468" dy="6">corticosterone</tspan></text></g>
<g id="n_3a21" class="n"><circle cx="533" cy="197" r="3.2"/><text class="l" x="519" y="208.5">3α,21-Dihydroxy-<tspan x="519" dy="6">5β-pregnane-11,20-dione</tspan></text></g>
<g id="n_3a20a21" class="n"><circle cx="583" cy="197" r="3.2"/><text class="l" x="589" y="198">3α,20α,21-Trihydroxy-<tspan x="589" dy="6">5β-pregnane-11-one</tspan></text></g>
<g id="n_11aohp" class="n"><circle cx="319" cy="227" r="3.2"/><text class="l" x="310" y="215">11α-Hydroxy-<tspan x="310" dy="6.5">progesterone</tspan></text></g>
<g id="n_20aohp" class="n"><circle cx="319" cy="247" r="3.2"/><text class="l" x="311" y="236.5">20α-Hydroxy-<tspan x="311" dy="5.5">progesterone</tspan></text></g>
<g id="n_prog" class="n"><circle cx="274" cy="272" r="3.2"/><text class="l" x="277" y="280">Progesterone</text></g>
<g id="n_11bohp" class="n"><circle cx="363.5" cy="272" r="3.2"/><text class="l" x="323" y="258">11β-Hydroxy-<tspan x="323" dy="6">progesterone</tspan></text></g>
<g id="n_5bp" class="n"><circle cx="421" cy="272" r="3.2"/><text class="l" x="413" y="259">5β-Pregnane-<tspan x="413" dy="6">3,20-dione</tspan></text></g>
<g id="n_3a5bp" class="n"><circle cx="470" cy="272" r="3.2"/><text class="l" x="458" y="259">3α-Hydroxy-<tspan x="458" dy="6">5β-pregnan-20-one</tspan></text></g>
<g id="n_pdiol" class="n"><circle cx="522" cy="272" r="3.2"/><text class="l" x="527" y="275">Pregnanediol</text></g>
<g id="n_17ohp" class="n"><circle cx="274" cy="333" r="3.2"/><text class="l" x="277" y="325">17α-Hydroxy-<tspan x="277" dy="6">progesterone</tspan></text></g>
<g id="n_21dc" class="n"><circle cx="363.5" cy="333" r="3.2"/><text class="l" x="369" y="337">21-Deoxycortisol</text></g>
<g id="n_1720preg" class="n"><circle cx="319" cy="348" r="3.2"/><text class="l" x="292" y="359">17α,20α-Dihydroxy-<tspan x="292" dy="6">pregn-4-en-3-one</tspan></text></g>
<g id="n_11dc" class="n"><circle cx="274" cy="403" r="3.2"/><text class="l" x="256" y="412.5">11-Deoxycortisol</text></g>
<g id="n_cortisol" class="n"><circle cx="363.5" cy="403" r="3.2"/><text class="l" x="367" y="414">Cortisol</text></g>
<g id="n_5ap" class="n"><circle cx="421" cy="321" r="3.2"/><text class="l" x="409" y="308">5α-Pregnane-<tspan x="409" dy="6">3,20-dione</tspan></text></g>
<g id="n_3a5ap" class="n"><circle cx="470" cy="321" r="3.2"/><text class="l" x="453" y="309">3α-Hydroxy-<tspan x="453" dy="6">5α-pregnan-20-one</tspan></text></g>
<g id="n_5a20a" class="n"><circle cx="470" cy="347" r="3.2"/><text class="l" x="454" y="333">5α-Pregnan-20α-<tspan x="454" dy="6">ol-3-one</tspan></text></g>
<g id="n_5adiol" class="n"><circle cx="523" cy="322" r="3.2"/><text class="l" x="527" y="325">5α-Pregnane-3α,20α-diol</text></g>
<g id="n_4andro11b" class="n"><circle cx="421" cy="373" r="3.2"/><text class="l" x="389" y="380">4-Androsten-<tspan x="389" dy="6.5">11beta-ol-3,17-dione</tspan></text></g>
<g id="n_11bohtesto" class="n"><circle cx="470" cy="373" r="3.2"/><text class="l" x="476" y="377">11β-Hydroxytestosterone</text></g>
<g id="n_11b17a21" class="n"><circle cx="421" cy="403" r="3.2"/><text class="l" x="397" y="415.5">11β,17α,21-Trihydroxy-<tspan x="397" dy="6">5β-pregnane-3,20-dione</tspan></text></g>
<g id="n_urocortisol" class="n"><circle cx="470" cy="403" r="3.2"/><text class="l" x="458" y="398">Urocortisol</text></g>
<g id="n_cortol" class="n"><circle cx="522" cy="403" r="3.2"/><text class="l" x="527" y="405.5">Cortol</text></g>
<g id="n_cortisone" class="n"><circle cx="363.5" cy="462" r="3.2"/><text class="l" x="350" y="472">Cortisone</text></g>
<g id="n_1721tri" class="n"><circle cx="421" cy="462" r="3.2"/><text class="l" x="395" y="448.5">17α,21-Dihydroxy-5β-<tspan x="395" dy="6">pregnane-3,11,20-trione</tspan></text></g>
<g id="n_urocortisone" class="n"><circle cx="470" cy="462" r="3.2"/><text class="l" x="460" y="472">Urocortisone</text></g>
<g id="n_cortolone" class="n"><circle cx="522" cy="462" r="3.2"/><text class="l" x="527" y="464.5">Cortolone</text></g>
<g id="n_11bandro" class="n"><circle cx="284" cy="479" r="3.2"/><text class="l" x="264" y="465">11β-Hydroxyandrost-<tspan x="264" dy="6.5">4-ene-3,17-dione</tspan></text></g>
<g id="n_adreno" class="n"><circle cx="340" cy="479" r="3.2"/><text class="l" x="321" y="490">Adrenosterone</text></g>
<g id="n_5bandro" class="n"><circle cx="346" cy="528" r="3.2"/><text class="l" x="319" y="542">5β-Androstane-<tspan x="319" dy="5.5">3,17-dione</tspan></text></g>
<g id="n_etio" class="n"><circle cx="400" cy="528" r="3.2"/><text class="l" x="383" y="542">Etiocholan-3α-<tspan x="383" dy="5.5">ol-17-one</tspan></text></g>
<g id="n_etiog" class="n"><circle cx="456" cy="528" r="3.2"/><text class="l" x="432" y="542">Etiocholan-3α-ol-<tspan x="432" dy="5.5">17-one 3-glucuronide</tspan></text></g>
<g id="n_5aandro" class="n"><circle cx="346" cy="569" r="3.2"/><text class="l" x="319" y="582">5α-Androstane-<tspan x="319" dy="6">3,17-dione</tspan></text></g>
<g id="n_androsterone" class="n"><circle cx="400" cy="569" r="3.2"/><text class="l" x="383" y="582">Androsterone</text></g>
<g id="n_androg" class="n"><circle cx="456" cy="569" r="3.2"/><text class="l" x="442" y="581">Androsterone-<tspan x="442" dy="6">glucuronide</tspan></text></g>
<g id="n_19ohandro" class="n"><circle cx="346" cy="604" r="3.2"/><text class="l" x="319" y="619.5">19-Hydroxyandrost-<tspan x="319" dy="5.5">4-ene-3,17-dione</tspan></text></g>
<g id="n_19oxoandro" class="n"><circle cx="400" cy="604" r="3.2"/><text class="l" x="384" y="619.5">19-Oxoandrost-4-ene-<tspan x="384" dy="5.5">3,17-dione</tspan></text></g>
<g id="n_estrone" class="n"><circle cx="493.5" cy="604" r="3.2"/><text class="l" x="466" y="601">Estrone</text></g>
<g id="n_e3s" class="n"><circle cx="523" cy="484" r="3.2"/><text class="l" x="527" y="488">Estrone 3-sulfate</text></g>
<g id="n_eglu" class="n"><circle cx="579" cy="516" r="3.2"/><text class="l" x="586" y="518.5">Estrone glucuronide</text></g>
<g id="n_e17a" class="n"><circle cx="579" cy="543" r="3.2"/><text class="l" x="586" y="546">Estradiol-17α</text></g>
<g id="n_2ohe" class="n"><circle cx="579" cy="575" r="3.2"/><text class="l" x="569" y="588">2-Hydroxyestrone</text></g>
<g id="n_2meoe" class="n"><circle cx="632" cy="575" r="3.2"/><text class="l" x="636" y="577.5">2-Methoxyestrone</text></g>
<g id="n_2meoeg" class="n"><circle cx="672" cy="560" r="3.2"/><text class="l" x="678" y="559.5">2-Methoxyestrone-<tspan x="678" dy="6">3-glucuronide</tspan></text></g>
<g id="n_2meoes" class="n"><circle cx="672" cy="589" r="3.2"/><text class="l" x="678" y="588">2-Methoxyestrone-<tspan x="678" dy="6">3-sulfate</tspan></text></g>
<g id="n_16aohe" class="n"><circle cx="579" cy="604" r="3.2"/><text class="l" x="584" y="613">16-α-Hydroxyestrone</text></g>
<g id="n_estradiol" class="n"><circle cx="493.5" cy="679" r="3.2"/><text class="l" x="472" y="690">Estradiol-17β</text></g>
<g id="n_estriol" class="n"><circle cx="579" cy="679" r="3.2"/><text class="l" x="577" y="689">Estriol</text></g>
<g id="n_16gluc" class="n"><circle cx="633" cy="679" r="3.2"/><text class="l" x="639" y="682">16-Glucuronide-estriol</text></g>
<g id="n_2ohe2" class="n"><circle cx="579" cy="709" r="3.2"/><text class="l" x="567" y="720">2-Hydroxy-<tspan x="567" dy="6.5">estradiol-17β</tspan></text></g>
<g id="n_2meoe2" class="n"><circle cx="633" cy="709" r="3.2"/><text class="l" x="640" y="712.5">2-Methoxy-estradiol-17β</text></g>
<g id="n_2meoe2g" class="n"><circle cx="674" cy="695" r="3.2"/><text class="l" x="678" y="695">2-Methoxy-estradiol-<tspan x="678" dy="6">17β-3-glucuronide</tspan></text></g>
<g id="n_2meoe2s" class="n"><circle cx="674" cy="723" r="3.2"/><text class="l" x="678" y="724">2-Methoxy-estradiol-<tspan x="678" dy="6">17β-3-sulfate</tspan></text></g>
<g id="n_6bohe2" class="n"><circle cx="579" cy="739" r="3.2"/><text class="l" x="583" y="742.5">6β-Hydroxy-estradiol-17β</text></g>
<g id="n_e2gluc" class="n"><circle cx="579" cy="768" r="3.2"/><text class="l" x="583" y="771.5">Estradiol-17β-3-glucuronide</text></g>
<g id="n_e2s" class="n"><circle cx="524" cy="798" r="3.2"/><text class="l" x="534" y="801.5">Estradiol-17β-3-sulfate</text></g>
<g id="n_3oxoseco" class="n"><circle cx="346" cy="640" r="3.2"/><text class="l" x="319" y="652">3-Oxo-13,17-secoandrost-<tspan x="319" dy="6">4-ene-17,13α-lactone</tspan></text></g>
<g id="n_19ohtesto" class="n"><circle cx="346" cy="679" r="3.2"/><text class="l" x="328" y="690">19-Hydroxy-<tspan x="328" dy="6">testosterone</tspan></text></g>
<g id="n_19oxotesto" class="n"><circle cx="400" cy="679" r="3.2"/><text class="l" x="377" y="673">19-Oxotestosterone</text></g>
<g id="n_5adht" class="n"><circle cx="346" cy="714" r="3.2"/><text class="l" x="319" y="729">5α-Dihydro-testosterone</text></g>
<g id="n_androdiol" class="n"><circle cx="403" cy="714" r="3.2"/><text class="l" x="399" y="729">Androstan-3alpha,17beta-diol</text></g>
<g id="n_5bdht" class="n"><circle cx="346" cy="751" r="3.2"/><text class="l" x="355" y="754.5">5β-Dihydro-testosterone</text></g>
<g id="n_testog" class="n"><circle cx="346" cy="788" r="3.2"/><text class="l" x="356" y="791.5">Testosterone glucuronide</text></g>

<g id="sections">
<text class="h" x="612" y="296">C21-Steroids</text>
<text class="h" x="185" y="714">C19-Steroids</text>
<text class="h" x="612" y="642">C18-Steroids</text>
</g>
<g id="footer">
<text x="0" y="816" style="font-size:6.3px">00140 2/26/16</text>
<text x="0" y="822.5" style="font-size:6.3px">(c) Kanehisa Laboratories</text>
</g>
</svg>
